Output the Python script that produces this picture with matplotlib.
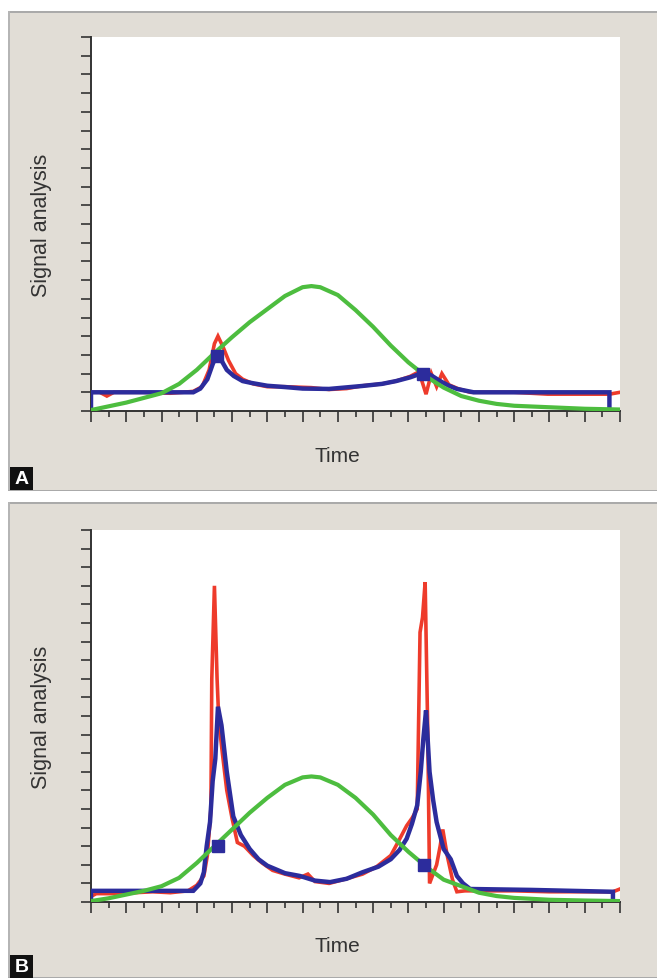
import matplotlib.pyplot as plt
from matplotlib.patches import Rectangle
from matplotlib.ticker import MultipleLocator

plt.rcParams['font.family'] = ['Liberation Sans', 'DejaVu Sans']

# ---- data (x in minor time ticks, y in y ticks) ----
green_x = [0, 1, 2, 3, 4, 5, 6, 7, 8, 9, 10, 11, 12, 12.5, 13, 14, 15, 16, 17,
           18, 19, 20, 21, 22, 23, 24, 26, 28, 30]
green_a = [0.05, 0.25, 0.45, 0.7, 0.95, 1.45, 2.2, 3.1, 3.95, 4.75, 5.45, 6.15,
           6.62, 6.68, 6.62, 6.2, 5.4, 4.5, 3.5, 2.6, 1.85, 1.25, 0.8, 0.55,
           0.38, 0.28, 0.2, 0.12, 0.08]
green_b = [0.05, 0.2, 0.4, 0.6, 0.85, 1.3, 2.1, 3.0, 3.9, 4.8, 5.6, 6.3, 6.7,
           6.75, 6.7, 6.3, 5.6, 4.7, 3.6, 2.7, 1.9, 1.2, 0.85, 0.5, 0.32, 0.22,
           0.12, 0.08, 0.05]

blue_a_x = [0, 0, 5.8, 6.2, 6.6, 6.9, 7.1, 7.4, 7.7, 8.1, 8.6, 9.1, 10, 11, 12,
            13.5, 15.4, 16.5, 17.3, 18.1, 18.7, 18.9, 19.3, 19.8, 20.3, 20.75,
            21.7, 29.4, 29.4]
blue_a_y = [0.27, 1.0, 1.0, 1.2, 1.7, 2.5, 2.95, 2.7, 2.2, 1.87, 1.6, 1.5, 1.35,
            1.28, 1.2, 1.18, 1.34, 1.45, 1.6, 1.8, 2.0, 2.1, 1.9, 1.6, 1.35,
            1.18, 1.0, 1.0, 0.27]
red_a_x = [0, 0.5, 0.9, 1.3, 2, 3, 4.5, 5.2, 5.8, 6.3, 6.7, 7.0, 7.2, 7.5, 7.8,
           8.2, 8.6, 9.2, 10, 11, 12.5, 13.5, 14.5, 15.4, 16.5, 17.3, 18.1,
           18.6, 19.0, 19.3, 19.6, 19.9, 20.3, 20.8, 21.5, 22.5, 24, 25.9, 27,
           29.4, 30]
red_a_y = [1.0, 1.0, 0.8, 1.0, 1.0, 1.0, 0.95, 1.0, 1.05, 1.3, 2.2, 3.6, 4.0,
           3.4, 2.7, 2.0, 1.7, 1.45, 1.3, 1.3, 1.25, 1.15, 1.2, 1.35, 1.45, 1.6,
           1.85, 2.1, 0.9, 2.0, 1.3, 2.0, 1.4, 1.2, 1.0, 1.0, 1.0, 0.9, 0.9,
           0.9, 1.0]
squares_a_x = [7.13, 18.85]
squares_a_y = [2.95, 2.0]

blue_b_x = [0, 0, 5.8, 6.2, 6.4, 6.56, 6.75, 6.9, 7.05, 7.2, 7.4, 7.7, 8.07,
            8.5, 9.0, 9.5, 10, 11, 11.85, 12.7, 13.56, 14.5, 15.4, 16.3, 17,
            17.5, 17.9, 18.2, 18.5, 18.7, 18.85, 19.0, 19.2, 19.4, 19.6, 20.0,
            20.4, 20.75, 21.1, 21.5, 25, 29.6, 29.6]
blue_b_y = [0.15, 0.6, 0.6, 1.0, 1.6, 3.0, 4.3, 6.5, 7.7, 10.5, 9.5, 7.0, 4.6,
            3.6, 2.85, 2.3, 1.95, 1.55, 1.4, 1.15, 1.07, 1.25, 1.6, 1.9, 2.3,
            2.8, 3.4, 4.2, 5.2, 7.0, 8.8, 10.3, 7.0, 5.5, 4.3, 2.85, 2.3, 1.4,
            1.0, 0.7, 0.65, 0.55, 0.15]
red_b_x = [0, 0.3, 1.5, 2.5, 3.5, 4.5, 5.5, 6.0, 6.4, 6.6, 6.8, 6.85, 7.0,
           7.15, 7.25, 7.45, 7.7, 8.0, 8.3, 8.7, 9.2, 9.7, 10.3, 11, 11.8, 12.3,
           12.7, 13.5, 14.3, 15.4, 16.2, 17, 17.4, 17.9, 18.2, 18.5, 18.66,
           18.8, 18.95, 19.1, 19.2, 19.4, 19.6, 19.8, 19.95, 20.2, 20.5, 20.75,
           21.2, 22, 24, 26, 28, 29.6, 30]
red_b_y = [0.3, 0.45, 0.45, 0.5, 0.55, 0.5, 0.6, 0.9, 1.4, 2.5, 5.0, 12.0,
           17.0, 12.0, 9.7, 8.0, 6.0, 4.5, 3.2, 3.0, 2.5, 2.1, 1.7, 1.5, 1.3,
           1.5, 1.1, 1.0, 1.2, 1.5, 1.9, 2.5, 3.2, 4.1, 4.5, 5.0, 14.5, 15.3,
           17.2, 9.0, 1.0, 1.5, 2.0, 3.0, 3.9, 2.5, 1.2, 0.55, 0.6, 0.6, 0.6,
           0.55, 0.55, 0.55, 0.7]
squares_b_x = [7.2, 18.9]
squares_b_y = [3.0, 2.0]

panel_letters = ['A', 'B']

W, H = 657, 979
BEIGE = '#e1ddd6'
RED = '#ee3b2b'
BLUE = '#2c2c9c'
GREEN = '#4dbd3f'
INK = '#333333'

fig = plt.figure(figsize=(W / 100, H / 100), dpi=100, facecolor='white')


def box(x0, y0, x1, y1, **kw):
    # rectangle given in image pixels (y down)
    r = Rectangle((x0 / W, 1 - y1 / H), (x1 - x0) / W, (y1 - y0) / H,
                  transform=fig.transFigure, **kw)
    fig.add_artist(r)


def panel(top, bottom, plot_top, plot_bot, letter, letter_y,
          gx, gy, bx, by, rx, ry, sx, sy):
    box(8, top, 657, bottom, facecolor=BEIGE, edgecolor='none', zorder=0)
    box(8, top, 657, top + 1.5, facecolor='#aaaaaa', edgecolor='none', zorder=0)
    box(8, top, 9.5, bottom, facecolor='#b5b5b5', edgecolor='none', zorder=0)
    box(8, bottom - 1.5, 657, bottom, facecolor='#aaaaaa', edgecolor='none', zorder=0)

    ax = fig.add_axes([91 / W, 1 - plot_bot / H, (620 - 91) / W,
                       (plot_bot - plot_top) / H])
    ax.set_facecolor('white')
    ax.plot(rx, ry, color=RED, lw=2.6, zorder=2, solid_joinstyle='miter')
    ax.plot(bx, by, color=BLUE, lw=3.2, zorder=3, solid_joinstyle='miter')
    ax.plot(gx, gy, color=GREEN, lw=3.0, zorder=4)
    ax.plot(sx, sy, 's', color=BLUE, ms=9, zorder=5)

    ax.set_xlim(0, 30)
    ax.set_ylim(0, 20)
    ax.xaxis.set_major_locator(MultipleLocator(2))
    ax.xaxis.set_minor_locator(MultipleLocator(1))
    ax.yaxis.set_major_locator(MultipleLocator(1))
    ax.set_xticklabels([])
    ax.set_yticklabels([])
    for s in ['top', 'right']:
        ax.spines[s].set_visible(False)
    for s in ['left', 'bottom']:
        ax.spines[s].set_color('#333333')
        ax.spines[s].set_linewidth(1.4)
    ax.tick_params(axis='x', which='major', direction='out', length=8,
                   width=1.2, color='#333333')
    ax.tick_params(axis='x', which='minor', direction='out', length=4.5,
                   width=1.2, color='#333333')
    ax.tick_params(axis='y', which='major', direction='out', length=7,
                   width=1.2, color='#333333')

    fig.text(41 / W, 1 - (plot_top + plot_bot) / 2 / H, 'Signal analysis',
             rotation=90, ha='center', va='center', fontsize=15.5, color=INK)
    fig.text(337 / W, 1 - (plot_bot + 44) / H, 'Time', ha='center',
             va='center', fontsize=15, color=INK)

    box(10, letter_y, 33, letter_y + 23, facecolor='#111111', edgecolor='none',
        zorder=1)
    fig.text(21.5 / W, 1 - (letter_y + 12) / H, letter, ha='center',
             va='center', fontsize=14, fontweight='bold', color='white',
             zorder=2)
    return ax


panel(12, 492, 38, 412, panel_letters[0], 468,
      green_x, green_a, blue_a_x, blue_a_y, red_a_x, red_a_y,
      squares_a_x, squares_a_y)
panel(503, 979, 531, 903, panel_letters[1], 956,
      green_x, green_b, blue_b_x, blue_b_y, red_b_x, red_b_y,
      squares_b_x, squares_b_y)

fig.savefig('out.png', dpi=100, facecolor='white')
